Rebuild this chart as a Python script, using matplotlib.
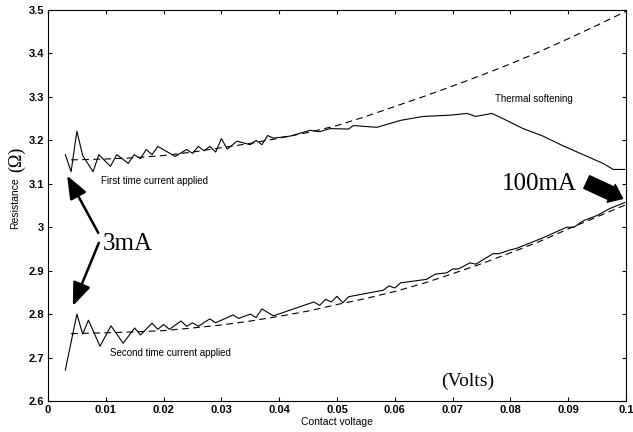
import matplotlib
matplotlib.use("Agg")
import matplotlib.pyplot as plt

# first time current applied (solid, measured)
x_first = [0.003, 0.004, 0.005, 0.006, 0.0078, 0.0088, 0.0108, 0.0119, 0.0139, 0.0149,
           0.016, 0.017, 0.018, 0.019, 0.022, 0.024, 0.025, 0.026, 0.027, 0.028,
           0.029, 0.030, 0.031, 0.0327, 0.035, 0.036, 0.037, 0.038, 0.039, 0.042,
           0.0453, 0.047, 0.0488, 0.052, 0.0528, 0.0569, 0.061, 0.0649, 0.0696, 0.0725,
           0.074, 0.0768, 0.0787, 0.0822, 0.0856, 0.089, 0.0926, 0.096, 0.0978, 0.0998]
r_first = [3.167, 3.128, 3.221, 3.165, 3.128, 3.167, 3.140, 3.167, 3.147, 3.167,
           3.158, 3.179, 3.167, 3.186, 3.163, 3.179, 3.170, 3.186, 3.176, 3.186,
           3.173, 3.204, 3.180, 3.198, 3.190, 3.200, 3.190, 3.211, 3.205, 3.210,
           3.223, 3.220, 3.227, 3.226, 3.234, 3.230, 3.246, 3.255, 3.258, 3.262,
           3.255, 3.262, 3.250, 3.227, 3.210, 3.188, 3.167, 3.147, 3.133, 3.133]

# second time current applied (solid, measured)
x_second = [0.003, 0.005, 0.006, 0.007, 0.009, 0.0109, 0.013, 0.015, 0.016, 0.018,
            0.019, 0.020, 0.021, 0.023, 0.024, 0.025, 0.026, 0.028, 0.029, 0.032,
            0.033, 0.035, 0.036, 0.037, 0.039, 0.046, 0.047, 0.048, 0.049, 0.050,
            0.051, 0.052, 0.058, 0.059, 0.060, 0.061, 0.0655, 0.067, 0.069, 0.070,
            0.071, 0.073, 0.074, 0.077, 0.078, 0.080, 0.081, 0.0857, 0.0897, 0.091,
            0.0926, 0.095, 0.0972, 0.0998]
r_second = [2.671, 2.800, 2.754, 2.786, 2.726, 2.773, 2.733, 2.768, 2.752, 2.779,
            2.765, 2.776, 2.765, 2.784, 2.772, 2.780, 2.772, 2.789, 2.780, 2.798,
            2.790, 2.800, 2.792, 2.812, 2.796, 2.828, 2.820, 2.834, 2.828, 2.841,
            2.826, 2.840, 2.855, 2.865, 2.860, 2.872, 2.880, 2.892, 2.895, 2.904,
            2.904, 2.918, 2.915, 2.939, 2.939, 2.948, 2.951, 2.976, 3.000, 3.000,
            3.015, 3.027, 3.043, 3.057]

# model curves (dashed)
x_model = [0.004, 0.01, 0.015, 0.02, 0.025, 0.03, 0.035, 0.04, 0.045, 0.05,
           0.055, 0.06, 0.065, 0.07, 0.075, 0.08, 0.085, 0.09, 0.095, 0.1]
r_model_first = [3.155, 3.157, 3.160, 3.165, 3.173, 3.183, 3.193, 3.205, 3.218, 3.234,
                 3.255, 3.278, 3.301, 3.325, 3.350, 3.376, 3.404, 3.434, 3.465, 3.497]
r_model_second = [2.755, 2.757, 2.759, 2.762, 2.768, 2.775, 2.784, 2.795, 2.807, 2.822,
                  2.836, 2.852, 2.871, 2.893, 2.916, 2.941, 2.967, 2.996, 3.024, 3.052]

x_ticks = [0, 0.01, 0.02, 0.03, 0.04, 0.05, 0.06, 0.07, 0.08, 0.09, 0.1]
x_labels = ["0", "0.01", "0.02", "0.03", "0.04", "0.05", "0.06", "0.07", "0.08", "0.09", "0.1"]
y_ticks = [2.6, 2.7, 2.8, 2.9, 3.0, 3.1, 3.2, 3.3, 3.4, 3.5]
y_labels = ["2.6", "2.7", "2.8", "2.9", "3", "3.1", "3.2", "3.3", "3.4", "3.5"]

plt.rcParams['font.family'] = ['Liberation Sans', 'DejaVu Sans']

fig = plt.figure(figsize=(6.33, 4.32), dpi=100)
ax = fig.add_axes([0.0758, 0.0718, 0.9132, 0.905])

ax.plot(x_first, r_first, color='black', lw=0.8)
ax.plot(x_second, r_second, color='black', lw=0.8)
ax.plot(x_model, r_model_first, color='black', lw=0.8, dashes=(6, 4))
ax.plot(x_model, r_model_second, color='black', lw=0.8, dashes=(6, 4))

ax.set_xlim(0, 0.1)
ax.set_ylim(2.6, 3.5)
ax.set_xticks(x_ticks)
ax.set_xticklabels(x_labels, fontsize=8, fontweight='bold')
ax.set_yticks(y_ticks)
ax.set_yticklabels(y_labels, fontsize=8, fontweight='bold')
ax.tick_params(direction='in', top=True, right=True, length=3, width=0.8, pad=3)
for sp in ax.spines.values():
    sp.set_linewidth(0.8)

ax.set_xlabel("Contact voltage", fontsize=7.5, labelpad=1)
fig.text(0.024, 0.53, "Resistance", rotation=90, fontsize=7.5, ha='center', va='center')
fig.text(0.026, 0.632, "(Ω)", rotation=90, fontsize=13, ha='center', va='center',
         family='Liberation Serif')

ax.text(0.0091, 3.107, "First time current applied", fontsize=7, va='center')
ax.text(0.0107, 2.71, "Second time current applied", fontsize=7, va='center')
ax.text(0.0773, 3.295, "Thermal softening", fontsize=7, va='center')

serif = 'Liberation Serif'
ax.text(0.0095, 2.962, "3mA", fontsize=18, va='center', family=serif)
ax.text(0.0786, 3.10, "100mA", fontsize=18, va='center', family=serif)
ax.text(0.0726, 2.645, "(Volts)", fontsize=14, va='center', ha='center', family=serif)

arrow = dict(arrowstyle='-|>,head_length=1.4,head_width=0.55', color='black', lw=1.8,
             shrinkA=0, shrinkB=0)
ax.annotate("", xy=(0.0033, 3.119), xytext=(0.0087, 2.987), arrowprops=arrow)
ax.annotate("", xy=(0.0043, 2.819), xytext=(0.0088, 2.964), arrowprops=arrow)
ax.annotate("", xy=(0.0994, 3.066), xytext=(0.0932, 3.104),
            arrowprops=dict(arrowstyle='simple,head_length=0.9,head_width=1.4,tail_width=1.0',
                            color='black', shrinkA=0, shrinkB=0))

fig.savefig("out.png", dpi=100)
